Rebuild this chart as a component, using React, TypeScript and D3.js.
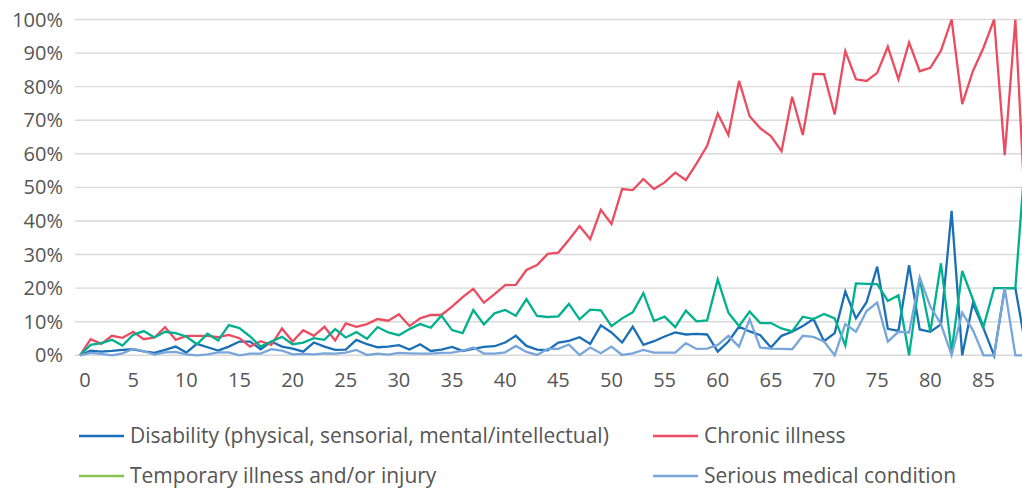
import * as d3 from "d3"

// age 0..89, share of people (%) per condition
const ages = d3.range(0, 90)

const disability = [
  0, 1.4, 1.1, 1.3, 1.6, 1.8, 1.2, 0.7, 1.6, 2.6,
  0.8, 3.4, 2.4, 1.4, 2.6, 4.1, 4.1, 1.8, 4.1, 2.6,
  2.0, 1.1, 3.8, 2.6, 1.6, 1.7, 4.6, 3.3, 2.4, 2.6,
  3.0, 1.7, 3.3, 1.3, 1.7, 2.5, 1.3, 1.9, 2.5, 2.7,
  3.8, 5.8, 2.8, 1.7, 1.5, 3.8, 4.3, 5.4, 3.4, 8.9,
  6.8, 3.8, 8.5, 3.1, 4.2, 5.6, 6.8, 6.2, 6.4, 6.2,
  1.1, 4.1, 8.5, 7.1, 6.0, 2.3, 5.8, 7.0, 8.7, 10.8,
  4.2, 6.6, 19.0, 11.0, 15.8, 26.4, 7.9, 7.3, 26.8, 7.7,
  7.0, 9.2, 43.0, 0, 15.5, 8.0, 0, 20, 20, 2,
]

const chronic = [
  0, 4.8, 3.4, 5.8, 5.2, 7.0, 4.8, 5.3, 8.4, 4.6,
  5.8, 5.8, 5.8, 5.4, 6.1, 5.1, 2.6, 4.2, 3.1, 8.0,
  4.1, 7.5, 5.8, 8.5, 4.4, 9.5, 8.5, 9.3, 10.8, 10.3,
  12.2, 8.7, 11.0, 12.0, 12.0, 14.5, 17.3, 19.8, 15.7, 18.2,
  20.9, 21.0, 25.4, 26.9, 30.2, 30.6, 34.4, 38.5, 34.6, 43.3,
  39.1, 49.5, 49.2, 52.5, 49.5, 51.5, 54.4, 52.2, 57.1, 62.4,
  72.0, 65.6, 81.7, 71.2, 67.6, 65.3, 60.8, 77.0, 65.6, 83.8,
  83.7, 71.7, 90.6, 82.2, 81.7, 84.1, 91.9, 82.2, 93.2, 84.6,
  85.6, 90.7, 100, 74.8, 84.6, 91.6, 100, 59.6, 100, 38,
]

const temporary = [
  0, 3.1, 3.6, 4.6, 2.9, 6.1, 7.2, 5.3, 7.0, 6.6,
  5.6, 3.3, 6.4, 4.4, 9.0, 8.1, 5.6, 2.6, 4.1, 5.5,
  3.3, 3.8, 5.1, 4.6, 7.8, 5.3, 6.9, 4.9, 8.4, 6.8,
  6.0, 7.8, 9.3, 8.2, 11.8, 7.5, 6.6, 13.5, 9.2, 12.5,
  13.5, 11.8, 16.7, 11.7, 11.4, 11.6, 15.3, 10.7, 13.6, 13.4,
  8.7, 11.0, 12.8, 18.5, 10.2, 11.5, 8.4, 13.3, 10.1, 10.4,
  22.6, 12.7, 8.7, 13.0, 9.6, 9.6, 8.0, 7.1, 11.5, 10.8,
  12.3, 11.0, 2.9, 21.4, 21.3, 21.2, 16.2, 17.9, 0, 22.9,
  7.0, 27.4, 1.1, 25.1, 16.7, 8.5, 20, 20, 20, 62,
]

const serious = [
  0, 0.7, 0.4, 0, 0.6, 1.9, 1.2, 0.2, 0.9, 1.0,
  0.3, 0, 0.3, 0.9, 0.9, 0, 0.5, 0.5, 1.8, 1.4,
  0.3, 0.4, 0.3, 0.6, 0.5, 0.8, 1.6, 0.1, 0.5, 0.2,
  0.7, 0.6, 0.5, 0.5, 0.7, 0.8, 1.4, 2.3, 0.5, 0.5,
  0.9, 2.8, 1.0, 0.1, 1.9, 1.9, 3.2, 0.1, 2.3, 0.6,
  2.6, 0.1, 0.6, 1.6, 0.8, 0.8, 0.8, 3.6, 1.9, 2.0,
  3.1, 5.8, 2.6, 10.7, 2.3, 2.0, 1.9, 1.8, 5.8, 5.5,
  4.1, 0, 9.3, 7.0, 13.2, 15.7, 4.1, 7.0, 6.8, 23.2,
  14.5, 9.3, 0, 12.7, 7.5, 0, 0, 20, 0, 0,
]

const yTicks = [0, 10, 20, 30, 40, 50, 60, 70, 80, 90, 100]
const xTicks = d3.range(0, 90, 5)

const series = [
  { name: "Disability (physical, sensorial, mental/intellectual)", values: disability, color: "#1b6fb6", legend: "#1b6fb6" },
  { name: "Chronic illness", values: chronic, color: "#ec4c60", legend: "#ec4c60" },
  { name: "Temporary illness and/or injury", values: temporary, color: "#00b08e", legend: "#8cc152" },
  { name: "Serious medical condition", values: serious, color: "#79a6da", legend: "#79a6da" },
]

const W = 1022
const H = 488

export default function App() {
  const x = d3.scaleLinear().domain([0, 89]).range([80, 1026])
  const y = d3.scaleLinear().domain([0, 100]).range([355.3, 19.5])

  const line = d3.line<number>()
    .x((_, i) => x(ages[i]))
    .y(d => y(d))

  const font = "'Open Sans', sans-serif"

  // legend: 2 columns x 2 rows
  const legendPos = [
    { x: 79, y: 436 },
    { x: 653, y: 436 },
    { x: 79, y: 476 },
    { x: 653, y: 476 },
  ]

  return (
    <div style={{ position: "absolute", left: 0, top: 0 }}>
      <svg width={W} height={H} style={{ display: "block", background: "#fff" }}>
        <g>
          {yTicks.map(t => (
            <g key={t}>
              <line x1={75} x2={W} y1={y(t)} y2={y(t)} stroke="#d9d9d9" strokeWidth={1.4} />
              <text x={63} y={y(t) + 7} textAnchor="end" fontFamily={font} fontSize={20} fill="#555">
                {t}%
              </text>
            </g>
          ))}
        </g>
        <g>
          {xTicks.map(t => (
            <text key={t} x={x(t) + (t === 0 ? 5 : 0)} y={387} textAnchor="middle" fontFamily={font} fontSize={20} fill="#555">
              {t}
            </text>
          ))}
        </g>
        <g fill="none" strokeWidth={2.3} strokeLinejoin="miter">
          {series.map(s => (
            <path key={s.name} d={line(s.values) || ""} stroke={s.color} />
          ))}
        </g>
        <g>
          {series.map((s, i) => (
            <g key={s.name} transform={`translate(${legendPos[i].x},${legendPos[i].y})`}>
              <line x1={0} x2={45} y1={0} y2={0} stroke={s.legend} strokeWidth={2.5} />
              <text x={51} y={7} fontFamily={font} fontSize={21} fill="#555">
                {s.name}
              </text>
            </g>
          ))}
        </g>
      </svg>
    </div>
  )
}
